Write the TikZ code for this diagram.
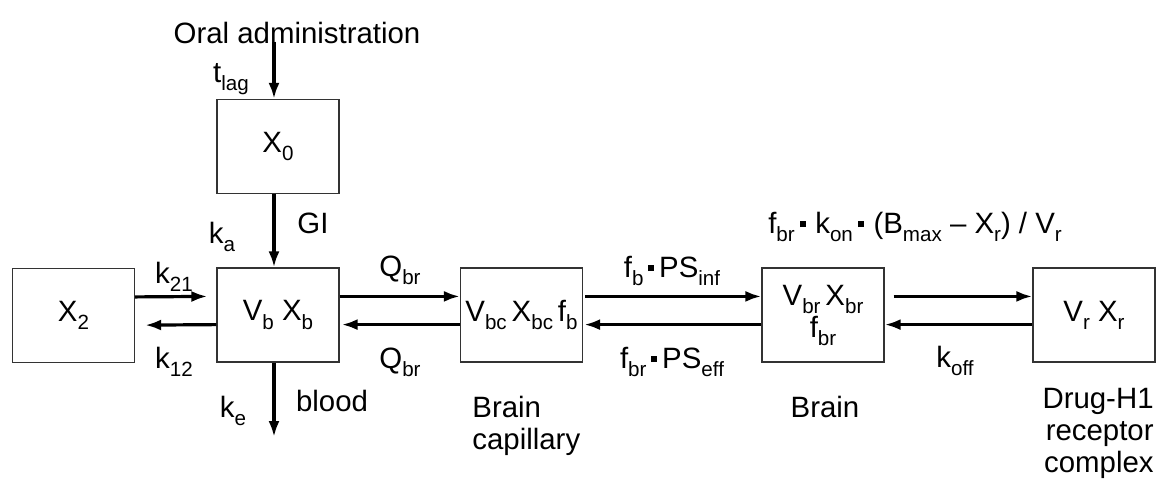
\documentclass[tikz,border=0pt]{standalone}
\usepackage{fontspec}
\setmainfont{Liberation Sans}
\usetikzlibrary{arrows.meta}
\newcommand{\sub}[1]{\raisebox{-0.28em}{\fontsize{10.3}{10}\selectfont #1}}
\newcommand{\dotsq}{\rule[0.2em]{0.2em}{0.2em}}
\tikzset{
  comp/.style={draw=black!80, line width=0.6pt, minimum width=61pt, minimum height=47pt, inner sep=0pt},
  flow/.style={line width=1.6pt, -{Latex[length=8pt,width=5.5pt]}},
  lbl/.style={inner sep=0pt, anchor=base}
}
\begin{document}
\begin{tikzpicture}[x=0.5pt,y=-0.5pt,font=\fontsize{14.7}{16}\selectfont]
  \useasboundingbox (0,0) rectangle (1159,479);

  \node[comp] (x0)  at (278,146.5) {X\sub{0}};
  \node[comp] (x2)  at (73.5,315.5) {X\sub{2}};
  \node[comp] (vb)  at (278,315) {V\sub{b} X\sub{b}};
  \node[comp] (vbc) at (521.5,315) {V\sub{bc}\,X\sub{bc}\,f\sub{b}};
  \node[comp] (vbr) at (823,315) {\raisebox{-2.3pt}{\begin{tabular}{@{}c@{}}V\sub{br}\,X\sub{br}\\f\sub{br}\end{tabular}}};
  \node[comp] (vr)  at (1094,315) {V\sub{r} X\sub{r}};

  \node[lbl] (oral) at (297,43) {Oral administration};
  \node[lbl] (tlag) at (231,82) {t\sub{lag}};
  \node[lbl] (ka) at (222,243) {k\sub{a}};
  \node[lbl] (gi) at (313,233) {GI};
  \node[lbl] (k21) at (174,283) {k\sub{21}};
  \node[lbl] (k12) at (174,368) {k\sub{12}};
  \node[lbl] (qin) at (400,276) {Q\sub{br}};
  \node[lbl] (qout) at (400,368) {Q\sub{br}};
  \node[lbl] (ke) at (233,417) {k\sub{e}};
  \node[lbl] (blood) at (332,411) {blood};
  \node[lbl] (psinf) at (672,277) {f\sub{b}\,\dotsq\,PS\sub{inf}};
  \node[lbl] (pseff) at (672,368) {f\sub{br}\,\dotsq\,PS\sub{eff}};
  \node[lbl] (bind) at (915,233) {f\sub{br}\,\dotsq\,\,k\sub{on}\,\dotsq\,\,(B\sub{max} – X\sub{r}) / V\sub{r}};
  \node[lbl] (koff) at (955,367) {k\sub{off}};
  \node[inner sep=0pt, anchor=north west, align=left] (cap) at (472,396) {Brain\\capillary};
  \node[lbl] (brain) at (825,417) {Brain};
  \node[inner sep=0pt, anchor=north east, align=right] (cplx) at (1154,388) {Drug-H1\\receptor\\complex};

  \coordinate (drain) at (274,437);

  \draw[flow] ([xshift=-2pt]x0.north |- oral.south) ++(0,-2) -- ([xshift=-2pt]x0.north);
  \draw[flow] ([xshift=-2pt]x0.south) -- ([xshift=-2pt]vb.north);
  \draw[flow] (vb.south -| drain) -- (drain);
  \draw[flow] ([yshift=9.3pt]x2.east) -- ([xshift=-4.5pt,yshift=9.3pt]vb.west);
  \draw[flow] ([yshift=-4.8pt]vb.west) -- ([xshift=5pt,yshift=-4.8pt]x2.east);
  \draw[flow] ([yshift=9.3pt]vb.east) -- ([yshift=9.3pt]vbc.west);
  \draw[flow] ([yshift=-4.8pt]vbc.west) -- ([xshift=1pt,yshift=-4.8pt]vb.east);
  \draw[flow] ([xshift=1pt,yshift=9.3pt]vbc.east) -- ([yshift=9.3pt]vbr.west);
  \draw[flow] ([yshift=-4.8pt]vbr.west) -- ([xshift=0.5pt,yshift=-4.8pt]vbc.east);
  \draw[flow] ([xshift=4.5pt,yshift=9.3pt]vbr.east) -- ([yshift=9.3pt]vr.west);
  \draw[flow] ([yshift=-4.8pt]vr.west) -- ([yshift=-4.8pt]vbr.east);
\end{tikzpicture}
\end{document}
